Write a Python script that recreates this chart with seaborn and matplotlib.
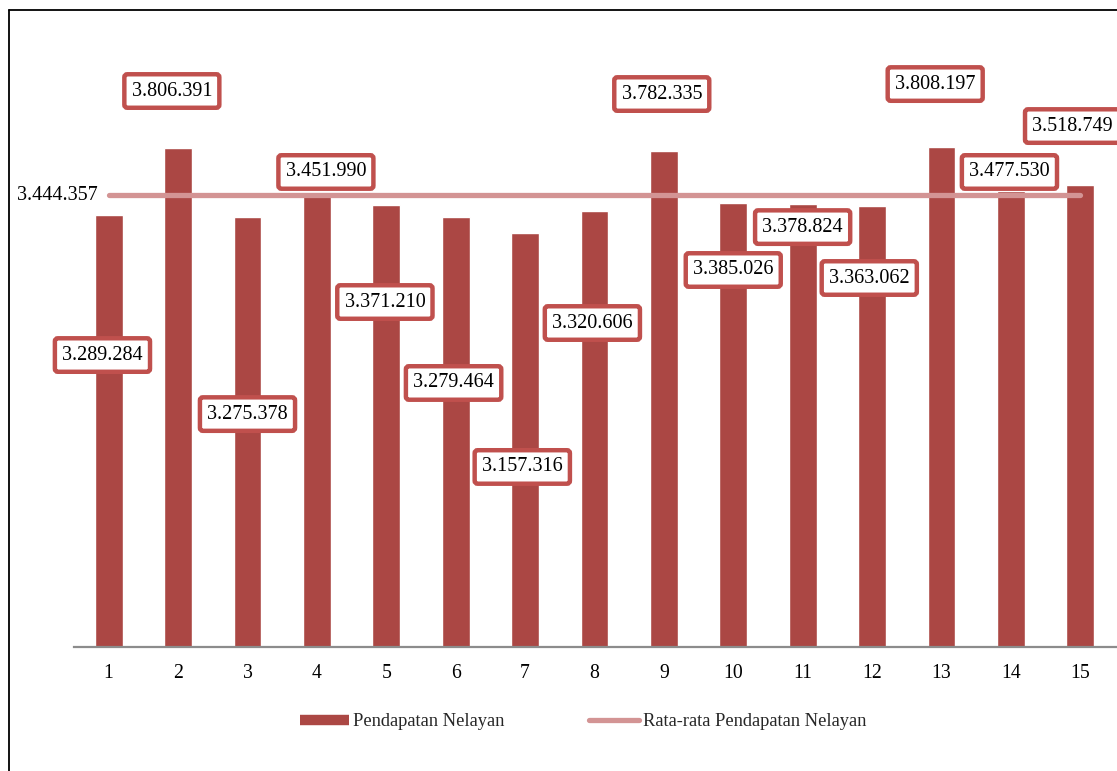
import matplotlib
matplotlib.use("Agg")
import matplotlib.pyplot as plt
import seaborn as sns
import pandas as pd
from matplotlib.lines import Line2D

categories = [str(i) for i in range(1, 16)]
pendapatan = [3289284, 3806391, 3275378, 3451990, 3371210, 3279464, 3157316,
              3320606, 3782335, 3385026, 3378824, 3363062, 3808197, 3477530, 3518749]
rata_rata = 3444357
bar_label = "Pendapatan Nelayan"
line_label = "Rata-rata Pendapatan Nelayan"

# label box placement (layout only)
label_dx = [-0.09, -0.09, 0.0, 0.13, -0.02, -0.03, -0.04, -0.03, -0.03, 0.0, 0.0, -0.04, -0.09, -0.02, -0.11]
label_y = [2225000, 4237000, 1775000, 3620000, 2629000, 2012000, 1372000, 2469000,
           4214000, 2873000, 3200000, 2812000, 4290000, 3620000, 3970000]

def fmt(v):
    return f"{v:,}".replace(",", ".")

sns.set_theme(style="white")
plt.rcParams['font.family'] = ['Liberation Serif', 'DejaVu Serif']

bar_color = "#AB4744"
box_color = "#C0504D"
line_color = "#D39494"
txt = "#000000"

fig = plt.figure(figsize=(11.17, 7.71), dpi=100)
ax = fig.add_axes([74/1117, 124/771, (1117-74)/1117, 590.5/771])

df = pd.DataFrame({"cat": categories, "val": pendapatan})
sns.barplot(data=df, x="cat", y="val", color=bar_color, width=0.4, ax=ax,
            saturation=1, zorder=2)

ax.plot([0, len(categories) - 1], [rata_rata, rata_rata], color=line_color,
        lw=3.8, solid_capstyle='round', zorder=3)
ax.text(-0.16, rata_rata, fmt(rata_rata), ha='right', va='center', fontsize=14.5,
        color=txt)

for i, v in enumerate(pendapatan):
    ax.text(i + label_dx[i], label_y[i], fmt(v), ha='center', va='center',
            fontsize=14.5, color=txt, zorder=5, clip_on=False,
            bbox=dict(boxstyle='round,pad=0.36,rounding_size=0.15', fc='white',
                      ec=box_color, lw=3.2))

ax.set_xlim(-0.5, len(categories) - 0.5 + 0.03)
ax.set_ylim(0, 4500000)
ax.set_xlabel("")
ax.set_ylabel("")
ax.set_yticks([])
for s in ['top', 'left', 'right']:
    ax.spines[s].set_visible(False)
ax.spines['bottom'].set_color('#8c8c8c')
ax.spines['bottom'].set_linewidth(1.6)
ax.tick_params(axis='x', length=0, pad=12.5, labelsize=14.2, labelcolor=txt)

handles = [Line2D([], [], color=bar_color, lw=7.5, solid_capstyle='butt'),
           Line2D([], [], color=line_color, lw=3.8, solid_capstyle='round')]
fig.legend(handles, [bar_label, line_label], loc='center',
           bbox_to_anchor=(583/1117, 1 - 722/771), ncol=2, frameon=False,
           fontsize=13.3, handlelength=2.7, handletextpad=0.2, columnspacing=4.6)

# outer border
fig.add_artist(Line2D([9/1117, 9/1117], [0, 1 - 10/771], transform=fig.transFigure,
                      color='black', lw=1.3))
fig.add_artist(Line2D([9/1117, 1], [1 - 10/771, 1 - 10/771], transform=fig.transFigure,
                      color='black', lw=1.3))

fig.savefig("out.png", dpi=100, facecolor='white')
